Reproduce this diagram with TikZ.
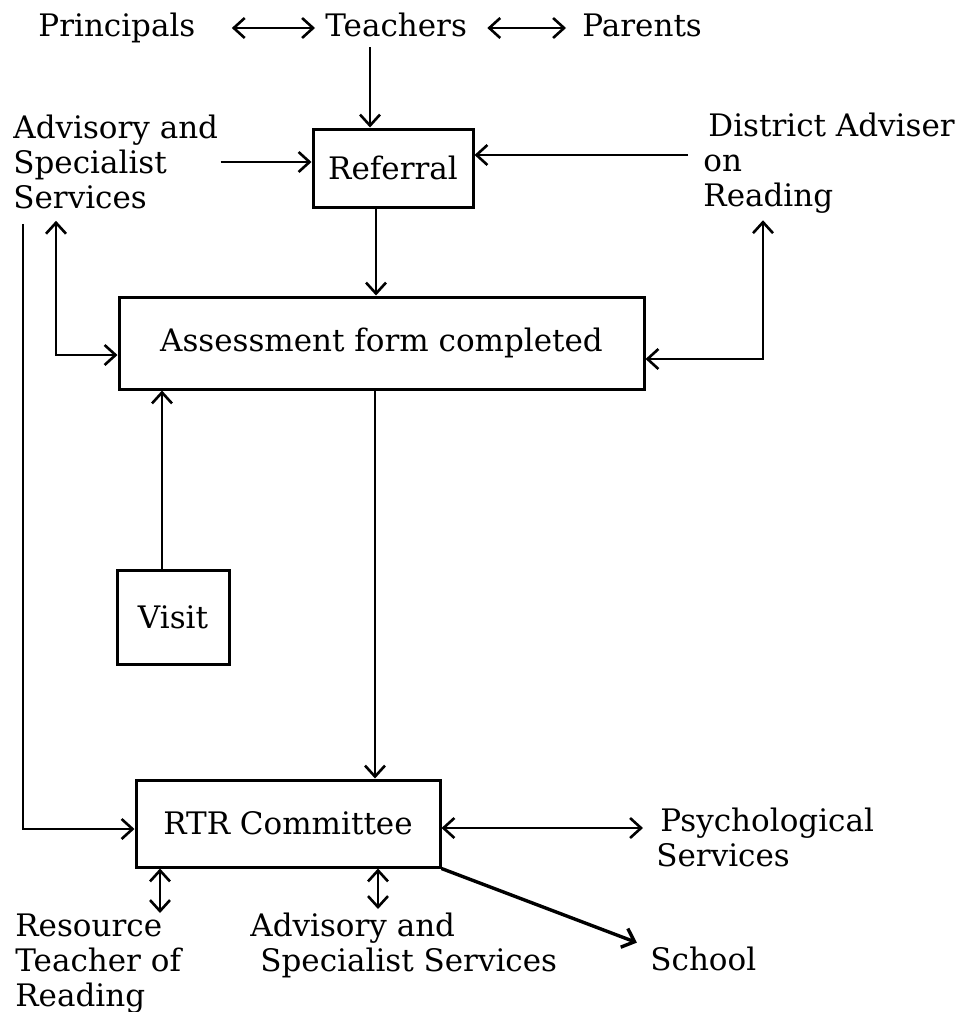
\documentclass[tikz,border=0pt]{standalone}
\usepackage{fontspec}
\setmainfont{DejaVu Serif}
\usetikzlibrary{arrows.meta}
\begin{document}
\begin{tikzpicture}[x=0.5pt, y=-0.5pt,
    every node/.style={font=\fontsize{15.5}{17.5}\selectfont, inner sep=0pt},
    word/.style={anchor=base west, text height=11pt, text depth=3pt},
    block/.style={anchor=north west, align=left},
    stage/.style={draw, line width=1.5pt},
    arrow/.style={line width=1.3pt, -{Straight Barb[length=5.5pt,width=10pt]}},
    twoway/.style={line width=1.3pt, {Straight Barb[length=5.5pt,width=10pt]}-{Straight Barb[length=5.5pt,width=10pt]}}]
   \useasboundingbox (0,0) rectangle (962,1012);
   \node[word] (prin) at (38,36) {Principals};
   \node[word] (teach) at (325,36) {Teachers};
   \node[word] (par) at (582,36) {Parents};
   \node[block] (adv1) at (13,115) {Advisory and\\Specialist\\Services};
   \node[block] (dist) at (703,113) {\hspace*{2.5pt}District Adviser\\on\\Reading};
   \node[stage, minimum width=80pt, minimum height=39pt] (ref) at (393,168) {Referral};
   \node[stage, minimum width=262.5pt, minimum height=46pt] (ass) at (381.5,343) {Assessment form completed};
   \node[stage, minimum width=56pt, minimum height=47pt] (visit) at (173,617) {Visit};
   \node[stage, minimum width=152pt, minimum height=43.5pt] (rtr) at (288,823.5) {RTR Committee};
   \node[block] (psych) at (656,808) {\hspace*{2pt}Psychological\\Services};
   \node[block] (res) at (15,913) {Resource\\Teacher of\\Reading};
   \node[block] (adv2) at (250,913) {Advisory and\\\hspace*{5pt}Specialist Services};
   \node[word] (school) at (650,970) {School};

   \draw[twoway, shorten <=18pt, shorten >=5pt] (prin.east) -- (teach.west);
   \draw[twoway, shorten <=10pt, shorten >=8pt] (teach.east) -- (par.west);
   \draw[arrow, shorten <=2.5pt] (teach.south -| 370,0) -- (ref.north -| 370,0);
   \draw[arrow, shorten <=1pt] (adv1.east |- 0,162) -- (ref.west |- 0,162);
   \draw[arrow, shorten <=7.5pt] (dist.west |- 0,155) -- (ref.east |- 0,155);
   \draw[arrow] (ref.south -| 376,0) -- (ass.north -| 376,0);
   \draw[twoway, shorten <=5.5pt] (adv1.south -| 56,0) |- (ass.west |- 0,355);
   \draw[twoway, shorten <=3pt] (dist.south -| 763,0) |- (ass.east |- 0,359);
   \draw[arrow] (visit.north -| 162,0) -- (ass.south -| 162,0);
   \draw[arrow] (ass.south -| 375,0) -- (rtr.north -| 375,0);
   \draw[arrow, shorten <=7pt] (adv1.south -| 23,0) |- (rtr.west |- 0,829);
   \draw[twoway, shorten >=6.5pt] (rtr.east |- 0,828) -- (psych.west |- 0,828);
   \draw[twoway] (rtr.south -| 160,0) -- (res.north -| 160,0);
   \draw[twoway, shorten >=2pt] (rtr.south -| 378,0) -- (adv2.north -| 378,0);
   \draw[arrow, line width=1.7pt, shorten >=7pt] (rtr.south east) -- (school.north west);
 \end{tikzpicture}
\end{document}
